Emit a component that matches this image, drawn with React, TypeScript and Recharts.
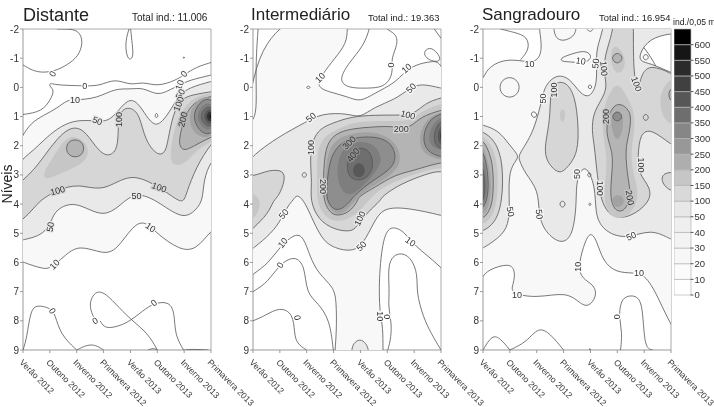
import { BarChart, Bar, ScatterChart, Scatter, XAxis, YAxis, ReferenceLine } from "recharts"

type Pt = number[]

const seasons = ["Verão 2012", "Outono 2012", "Inverno 2012", "Primavera 2012", "Verão 2013", "Outono 2013", "Inverno 2013", "Primavera 2013"]
const seasonTicks = [0, 1, 2, 3, 4, 5, 6, 7]
const levelTicks = [-2, -1, 0, 1, 2, 3, 4, 5, 6, 7, 8, 9]

const legendLabels = ["0", "10", "20", "30", "40", "50", "100", "150", "200", "250", "300", "350", "400", "450", "500", "550", "600"]
const legendFills = ["#ffffff", "#fbfbfb", "#f7f7f7", "#f3f3f3", "#efefef", "#e8e8e8", "#d9d9d9", "#c6c6c6", "#aeaeae", "#989898", "#868686", "#6e6e6e", "#575757", "#404040", "#2b2b2b", "#161616", "#000000"]

const shade: Record<number, string> = {
  10: "#f8f8f8", 50: "#e9e9e9", 100: "#d6d6d6", 150: "#c6c6c6", 200: "#b4b4b4", 250: "#a2a2a2",
  300: "#8e8e8e", 350: "#7e7e7e", 400: "#6e6e6e", 450: "#585858", 500: "#333333", 600: "#141414",
}
const levelsWithLine = [10, 50, 100, 200, 300, 400]

// Distante
const d10: Pt[] = [[-0.4, 2.3], [0, 1.63], [0.28, 1.23], [0.77, 0.95], [1.27, 0.72], [1.64, 0.43], [1.94, 0.43], [2.75, 0.38], [3.43, 0.03], [4, 0.07], [4.48, 0], [5, 0.29], [5.46, 0.09], [5.83, -0.08], [6.2, -0.25], [7, -0.42], [7.4, -0.5], [7.4, 4.7], [7, 4.89], [6.45, 5.58], [5.83, 5.58], [4.97, 5], [4.54, 4.57], [4.1, 4.72], [3.49, 5.58], [3, 5.73], [2.07, 5.37], [1.51, 5.81], [1.02, 6.2], [0.77, 6.23], [0, 6], [-0.4, 5.8]]
const d50: Pt[] = [[-0.4, 2.9], [0, 2.43], [0.4, 2.15], [0.77, 1.81], [1.27, 1.41], [1.88, 1.12], [2.62, 1.14], [3.1, 1.18], [3.43, 0.95], [3.9, 0.38], [4.26, 0.49], [4.6, 1], [4.9, 1.33], [5.2, 1.18], [5.53, 0.72], [5.83, 0.26], [6.2, 0], [7, -0.2], [7.4, -0.3], [7.4, 2.3], [7, 2.49], [6.72, 3.18], [6.7, 3.86], [6.45, 4.2], [5.95, 4.55], [4.97, 3.86], [4.23, 3.6], [3.74, 3.92], [3, 4.53], [1.95, 3.86], [1.2, 4.2], [1.08, 4.55], [0.77, 5.06], [0, 5.23], [-0.4, 5.3]]
const d100: Pt[] = [[-0.4, 3.5], [0, 3.18], [0.4, 2.83], [0.77, 2.38], [1.27, 1.75], [1.76, 1.35], [2.25, 1.41], [2.69, 2.03], [3.1, 2.4], [3.5, 2.2], [3.55, 1.58], [3.55, 1], [3.74, 0.72], [4.04, 0.69], [4.35, 0.95], [4.54, 1.81], [5, 2.35], [5.3, 2.25], [5.4, 1.8], [5.59, 0.89], [5.9, 0.38], [6.33, 0.25], [7, 0.15], [7.4, 0.1], [7.4, 1.6], [7, 1.92], [6.45, 2.72], [6.08, 3.63], [5.97, 4], [5.5, 3.7], [5.07, 3.43], [4, 2.88], [3, 3.6], [2.07, 3.29], [1.27, 3.52], [0.65, 3.86], [0.4, 4.15], [0, 4.53], [-0.4, 4.8]]
const d150a: Pt[] = [[0.73, 2.95], [1.14, 2.38], [1.5, 1.81], [1.94, 1.63], [2.4, 1.92], [2.47, 2.43], [1.88, 2.78], [1.27, 3], [0.83, 3.18]]
const d150b: Pt[] = [[5.59, 2.72], [5.46, 2.38], [5.59, 1.58], [5.83, 0.89], [6.33, 0.32], [7, 0.2], [7.4, 0.2], [7.4, 1.7], [7, 1.86], [6.45, 2.15], [6.08, 2.6]]
const d200a: Pt[] = [[1.94, 1.75], [2.27, 1.9], [2.27, 2.28], [1.94, 2.43], [1.61, 2.28], [1.61, 1.9]]
const d200b: Pt[] = [[5.77, 1.92], [5.96, 2.2], [6.33, 2.03], [7, 1.69], [7.4, 1.6], [7.4, 0.2], [7, 0.32], [6.5, 0.43], [6.13, 0.78], [5.95, 1.23]]
const d250: Pt[] = [[7, 0.2], [6.4, 0.45], [6.15, 1], [6.3, 1.6], [7, 1.85], [7.5, 1]]
const d300: Pt[] = [[7, 0.3], [6.55, 0.5], [6.3, 1], [6.55, 1.5], [7, 1.7], [7.5, 1]]
const d350: Pt[] = [[7, 0.45], [6.62, 0.65], [6.45, 1], [6.62, 1.35], [7, 1.55], [7.4, 1]]
const d400: Pt[] = [[7, 0.6], [6.72, 0.75], [6.6, 1], [6.72, 1.25], [7, 1.4], [7.3, 1]]
const d450: Pt[] = [[7, 0.7], [6.8, 0.8], [6.72, 1], [6.8, 1.2], [7, 1.3], [7.2, 1]]
const d500: Pt[] = [[7, 0.8], [6.88, 0.87], [6.82, 1], [6.88, 1.13], [7, 1.2], [7.15, 1]]
const d600: Pt[] = [[7, 0.9], [6.92, 1], [7, 1.1], [7.1, 1]]
const dLine1: Pt[] = [[1.27, -2], [1.6, -2], [2.08, -1.97], [2.25, -1.55], [2.06, -1.05], [1.64, -0.77], [1.2, -0.55], [0.52, -0.48], [0, -0.77]]
const dLine2: Pt[] = [[0, 0.93], [0.71, 0.83], [1.02, 0.43], [1.18, 0.09], [0.96, -0.05], [1.02, -0.16], [1.18, -0.08], [2.3, -0.05], [2.87, -0.05], [3.43, -0.31], [4, -0.06], [4.48, -0.2], [5, -0.02], [5.7, -0.25], [5.99, -0.42], [6.45, -0.7], [7, -0.85]]
const dLine3: Pt[] = [[0, 9], [0.14, 8.6], [0.28, 7.63], [0.52, 7.45], [1.02, 7.56], [1.2, 7.78], [1.39, 8.47], [2, 9]]
const dLine4: Pt[] = [[2, 9], [2.56, 8.74], [3, 9]]
const dLine5: Pt[] = [[2.7, 8], [2.5, 7.63], [2.5, 7.3], [2.69, 7], [3, 7], [3.43, 7.4], [4, 7.95], [4.66, 8.43], [5, 9]]
const dLine6: Pt[] = [[2.87, 8], [3, 8.2], [3.25, 8.26], [3.87, 8.1], [4.48, 7.64], [4.88, 7.39], [5.46, 7.33], [5.65, 7.76], [5.65, 8.47], [5.98, 9]]
const dLine7: Pt[] = [[4.66, 9], [4.85, 8.93], [5, 9]]
const dLine8: Pt[] = [[6, 9], [6.3, 8.97], [6.9, 9]]
const dLoop1: Pt[] = [[3.98, -2.1], [3.8, -1.57], [3.86, -1.05], [4, -0.92], [4.12, -1.1], [4.05, -1.6], [4, -2.1]]
const dLoop2: Pt[] = [[4.97, 0.82], [5.06, 1.04], [4.88, 1.04]]
const dLoop3: Pt[] = [[5.99, -1.06], [6.02, -1.02], [5.99, -0.98], [5.96, -1.02]]
const dLabels = [
  [1.1, -0.46, "0", -60, "#fff"], [2.3, -0.05, "0", 0, "#fff"], [6, -0.46, "0", -50, "#f8f8f8"], [1.94, 0.43, "10", 0, "#f8f8f8"], [5.83, -0.08, "10", -70, "#f8f8f8"],
  [5.86, 0.23, "50", -60, "#e9e9e9"], [5.8, 0.57, "100", -70, "#d6d6d6"], [2.77, 1.15, "50", 20, "#e9e9e9"], [3.59, 1.1, "100", -90, "#d6d6d6"], [5.96, 1.1, "200", -75, "#b4b4b4"],
  [1.29, 3.54, "100", -15, "#d6d6d6"], [5.07, 3.43, "100", 20, "#d6d6d6"], [4.23, 3.71, "50", 0, "#e9e9e9"], [1.02, 4.78, "50", -80, "#e9e9e9"], [1.18, 6.07, "10", -45, "#f8f8f8"],
  [4.75, 4.8, "10", 35, "#f8f8f8"], [1.09, 7.66, "0", 60, "#fff"], [2.69, 8, "0", -30, "#fff"], [4.88, 7.38, "0", -40, "#fff"],
]

// Intermediario
const i10: Pt[] = [[-0.4, -2.5], [3.5, -2.5], [3.52, -2], [3.48, -1.5], [3.05, -1], [2.56, -0.43], [2.37, -0.02], [2.8, 0.15], [3.54, 0.32], [3.98, 0.51], [4.53, 0.2], [5.27, -0.14], [5.65, -0.54], [6.05, -0.77], [6.6, -0.9], [7.4, -0.9], [7.4, 6.6], [7, 6.15], [6.38, 5.69], [5.89, 5.29], [5.64, 4.95], [5.15, 4.72], [4.84, 5.1], [4.68, 6.6], [4.72, 7.75], [4.84, 8.2], [4.84, 9], [4.84, 9.4], [3.05, 9.4], [3.05, 9], [3.11, 8.4], [3.11, 7.3], [2.99, 6.83], [2.43, 6.38], [2.12, 5.8], [1.88, 5.11], [1.57, 5], [1, 5.46], [0.58, 6.03], [0, 6.4], [-0.4, 6.7]]
const i50: Pt[] = [[-0.4, 2.8], [0, 2.32], [0.95, 1.69], [1.99, 1.18], [2.56, 0.89], [3.54, 0.89], [3.98, 1.06], [4.53, 0.66], [5.27, 0.43], [5.83, 0.03], [6.26, -0.14], [7, 0.03], [7.4, 0.1], [7.4, 4.5], [7, 4.38], [5.89, 4.15], [4.9, 4.09], [4.53, 4.55], [4.1, 5.4], [3.67, 5.63], [3.05, 5.52], [2.56, 5.23], [2.12, 4.32], [1.88, 3.86], [1.63, 3.66], [1.5, 3.86], [1.32, 4.03], [1.07, 4.49], [0.7, 5], [0, 5.52], [-0.4, 5.8]]
const i50b: Pt[] = [[3.67, 9.4], [3.67, 9], [3.73, 8.78], [3.98, 8.6], [4.22, 8.78], [4.31, 9], [4.31, 9.4]]
const i100a: Pt[] = [[-0.4, 3], [0, 3.06], [0.58, 2.83], [1.14, 2.83], [1.2, 3.18], [0.95, 3.75], [0.76, 3.86], [0.58, 4.32], [0, 4.83], [-0.4, 5.2]]
const i100b: Pt[] = [[2.12, 3.86], [2.2, 3.3], [2.12, 2.5], [2.2, 1.81], [2.5, 1.41], [2.94, 1.23], [3.67, 1], [4.53, 0.95], [5.27, 0.95], [5.99, 0.95], [6.38, 0.55], [7, 0.35], [7.4, 0.3], [7.4, 3], [7, 2.85], [6.5, 2.95], [5.5, 3.3], [4.78, 3.75], [4.78, 3.86], [4.28, 4.26], [3.85, 4.78], [3.67, 4.95], [3.05, 4.89], [2.43, 4.55]]
const i150a: Pt[] = [[-0.4, 3.5], [0, 3.6], [0.3, 3.86], [0.2, 4.3], [0, 4.5], [-0.4, 4.7]]
const i150b: Pt[] = [[2.36, 3.86], [2.4, 3.2], [2.36, 2.25], [2.62, 1.65], [3.3, 1.38], [3.67, 1.2], [4.53, 1.15], [5.27, 1.15], [5.85, 1.15], [6.3, 0.8], [7, 0.55], [7.4, 0.5], [7.4, 2.8], [7, 2.7], [5.4, 3.15], [4.5, 3.6], [3.9, 4.4], [3.05, 4.67], [2.6, 4.35]]
const i200: Pt[] = [[2.62, 3.86], [2.62, 3.1], [2.68, 2.03], [3.05, 1.58], [3.67, 1.41], [4.53, 1.35], [5.15, 1.33], [5.5, 1.41], [5.89, 1.35], [6.26, 1], [7, 0.78], [7.4, 0.7], [7.4, 2.6], [7, 2.55], [5.95, 2.86], [5.27, 3], [4.53, 3.43], [3.92, 3.75], [3.92, 3.86], [3.6, 4.3], [3.05, 4.43], [2.8, 4.2]]
const i250: Pt[] = [[2.68, 3.9], [2.68, 3.3], [2.75, 2.2], [3.15, 1.72], [3.8, 1.55], [4.6, 1.5], [5.4, 1.9], [5.55, 2.6], [5.1, 3.05], [4.4, 3.4], [3.8, 3.85], [3.4, 4.35], [3, 4.35]]
const i300: Pt[] = [[2.74, 3.86], [2.74, 3.4], [2.86, 2.37], [3.3, 1.86], [3.9, 1.69], [4.78, 1.69], [5.27, 2.03], [5.33, 2.6], [4.9, 2.95], [4.28, 3.3], [3.67, 3.8], [3.67, 3.86], [3.3, 4.2], [2.98, 4.2]]
const i350: Pt[] = [[3.6, 1.85], [4.5, 1.85], [4.9, 2.5], [4.4, 3.1], [3.7, 3.75], [3.3, 3.6], [3.1, 3], [3.2, 2.3]]
const i400: Pt[] = [[3.94, 2.03], [4.35, 2.15], [4.5, 2.6], [4.35, 3.06], [3.91, 3.23], [3.54, 3.06], [3.48, 2.6], [3.67, 2.26]]
const i450: Pt[] = [[3.94, 2.55], [4.17, 2.7], [4.17, 3], [3.94, 3.12], [3.72, 3], [3.72, 2.7]]
const i250b: Pt[] = [[7.4, 0.75], [7, 0.85], [6.45, 1.05], [6.15, 1.7], [6.3, 2.3], [7, 2.5], [7.4, 2.5]]
const i300b: Pt[] = [[7.4, 0.8], [7, 0.9], [6.55, 1.1], [6.3, 1.7], [6.45, 2.2], [7, 2.4], [7.4, 2.4]]
const i350b: Pt[] = [[7.4, 0.9], [6.75, 1.1], [6.5, 1.7], [6.65, 2.1], [7.4, 2.25]]
const i400b: Pt[] = [[7.4, 1], [6.85, 1.2], [6.7, 1.75], [6.85, 2.1], [7.4, 2.15]]
const i450b: Pt[] = [[7.4, 1.1], [6.95, 1.3], [6.85, 1.7], [6.95, 2], [7.4, 2.05]]
const i500b: Pt[] = [[7.4, 1.2], [7, 1.4], [6.95, 1.7], [7.05, 1.95], [7.4, 1.95]]
const iLine1: Pt[] = [[0.19, -2], [0.09, -0.7], [0.15, 0.78], [0, 1.1]]
const iLine2: Pt[] = [[6.75, -2], [7, -1.68]]
const iLine3: Pt[] = [[0, 7], [0.58, 6.66], [0.95, 6.09], [1.57, 5.74], [1.94, 6.14], [1.98, 7.05], [2.43, 7.4], [2.86, 7.97], [2.99, 9]]
const iLine4: Pt[] = [[0, 8], [0.46, 7.82], [1, 7.52], [1.5, 7.75], [1.54, 8.43], [1.63, 8.78], [1.99, 9]]
const iLine5: Pt[] = [[5.02, 9], [5.15, 8.55], [5.15, 8], [5.03, 7.52], [5.09, 6.95], [5, 5.98], [5.4, 5.63], [5.89, 5.8], [6.14, 6.43], [6.08, 7], [6.33, 7.86], [6.63, 8.43], [7, 9]]
const iLoop1: Pt[] = [[4.35, -2.3], [4.35, -2], [4.1, -1.4], [3.6, -0.88], [3.17, -0.25], [3.54, 0.03], [4.28, 0.03], [4.84, 0], [5.15, -0.31], [5.2, -0.71], [5.15, -1], [5.4, -1.5], [5.33, -1.85], [4.9, -2], [4.9, -2.3]]
const iLoop2: Pt[] = [[6.36, -1.25], [6.63, -1.4], [6.95, -1.1], [6.98, -0.87], [6.63, -0.9], [6.4, -1.05]]
const iLoop3: Pt[] = [[1.91, 2.88], [2.03, 3], [1.91, 3.12], [1.79, 3]]
const iLoop4: Pt[] = [[2.06, -0.06], [2.15, 0], [2.06, 0.06], [1.97, 0]]
const iLabels = [
  [2.5, -0.33, "10", -45, "#f8f8f8"], [5.15, -0.77, "0", -90, "#fff"], [5.72, -0.65, "10", -40, "#fff"], [5.89, 0.03, "50", -45, "#f8f8f8"], [2.16, 1.03, "50", -40, "#f8f8f8"],
  [5.77, 0.95, "100", 15, "#e9e9e9"], [5.52, 1.43, "200", 0, "#d6d6d6"], [2.16, 2.06, "100", -90, "#e9e9e9"], [3.58, 1.9, "300", -45, "#a2a2a2"], [3.73, 2.32, "400", -50, "#8e8e8e"],
  [2.59, 3.4, "200", 90, "#d6d6d6"], [1.14, 4.34, "50", -50, "#f8f8f8"], [1.11, 5.33, "10", -50, "#f8f8f8"], [1.01, 6.09, "0", -60, "#fff"], [3.98, 4.49, "100", -65, "#e9e9e9"],
  [4.04, 5.44, "50", -45, "#f8f8f8"], [5.86, 5.29, "10", 35, "#fff"], [4.72, 7.84, "10", 90, "#f8f8f8"], [5, 7.86, "0", 90, "#fff"], [1.65, 7.89, "0", 80, "#fff"],
]

// Sangradouro
const s10: Pt[] = [[-0.4, 0], [0, -0.25], [0.15, -0.65], [0.7, -0.94], [1.3, -0.94], [2, -0.82], [2.22, -1.29], [2.09, -2], [2.09, -2.4], [7.4, -2.4], [7.4, 8.6], [7, 8.18], [6.57, 7.29], [6.08, 6.43], [5.59, 6.35], [4.97, 6.35], [4.47, 5.98], [4.23, 5.23], [3.98, 4.91], [3.73, 5.46], [3.55, 6.15], [3.67, 6.55], [4.17, 6.78], [4.23, 7.18], [3.92, 7.54], [3.61, 7.4], [3.12, 7], [2, 7.23], [0.99, 7.06], [1.14, 6.72], [1.2, 6.32], [1.02, 6], [0.15, 6.26], [0, 6.51], [-0.4, 6.8]]
const s50a: Pt[] = [[-0.4, 1.2], [0, 1.29], [0.58, 1.47], [0.98, 1.97], [1.3, 2.3], [1.3, 2.45], [0.95, 2.84], [0.98, 3.86], [0.98, 4.55], [0.77, 5.05], [0, 5.52], [-0.4, 5.7]]
const s50b: Pt[] = [[1.33, 2.29], [1.88, 1.57], [2.19, 0.43], [2.31, -0.08], [2.75, -0.46], [3.24, -0.31], [3.61, 0.21], [3.98, 0.38], [4.27, -0.14], [4.2, -1.05], [4.29, -1.5], [4.48, -2], [4.48, -2.4], [7.4, -2.4], [7.4, -1.85], [7, -1.85], [6.2, -1.68], [5.83, -1.17], [5.83, -0.88], [6.26, -0.82], [7, -0.5], [7.4, -0.4], [7.4, 5.3], [7, 5.23], [6.27, 4.83], [5.28, 5.23], [4.45, 4.9], [4.17, 4.32], [4.2, 3.4], [3.8, 2.55], [3.46, 3.18], [3.49, 3.86], [3.36, 5.12], [2.87, 5.4], [2.25, 4.89], [2.07, 4.32], [2.07, 3.52], [1.57, 2.95], [1.33, 2.47]]
const s100a: Pt[] = [[-0.4, 1.4], [0, 1.52], [0.45, 1.8], [0.76, 2.6], [0.72, 3.97], [0.45, 4.65], [0, 4.94], [-0.4, 5]]
const s100b: Pt[] = [[2.68, -0.19], [3.12, -0.19], [3.43, 0.32], [3.55, 1.23], [3.55, 2.26], [3.12, 2.78], [2.81, 3], [2.31, 2.49], [2.31, 1.93], [2.5, 1.12], [2.5, 0.2]]
const s100c: Pt[] = [[4.84, -2.4], [4.84, -1.9], [4.53, -1.1], [4.5, -0.5], [4.63, 0], [4.41, 0.43], [4.1, 0.89], [4.05, 1.5], [4.15, 2], [4.23, 2.83], [4.35, 3.62], [4.5, 4.1], [4.83, 4.47], [5.46, 4.47], [6.2, 3.96], [6.27, 3.45], [5.76, 2.93], [5.77, 2.38], [5.84, 1.57], [6.27, 1.41], [7, 1.98], [7.4, 2.1], [7.4, -0.3], [7, -0.48], [6.26, -0.78], [5.9, -0.5], [5.8, 0.1], [5.6, -0.36], [5.6, -2], [5.6, -2.4]]
const s100d: Pt[] = [[7.4, 2.9], [6.65, 2.9], [6.65, 3.3], [7, 3.57], [7.4, 3.6]]
const s150a: Pt[] = [[-0.4, 1.6], [0, 1.65], [0.32, 1.98], [0.57, 2.65], [0.55, 3.9], [0.33, 4.47], [0, 4.7], [-0.4, 4.8]]
const s150b: Pt[] = [[5, -0.2], [5.3, 0.2], [5.7, 0.9], [5.6, 1.7], [5.5, 2.3], [5.6, 3], [5.85, 3.7], [5.5, 4.4], [4.95, 4.55], [4.55, 4.2], [4.5, 3.5], [4.65, 2.5], [4.45, 1.6], [4.45, 0.8], [4.7, 0.2]]
const s150c: Pt[] = [[4.78, -1.39], [5, -1.42], [5.3, -1.1], [5.28, -0.6], [5, -0.42], [4.75, -0.77]]
const s150d: Pt[] = [[7.4, -0.3], [6.9, -0.3], [6.55, 0.3], [6.65, 1], [7, 1.3], [7.4, 1.3]]
const s150e: Pt[] = [[2.96, 0.65], [3.1, 0.95], [2.96, 1.3], [2.82, 0.95]]
const s200a: Pt[] = [[-0.4, 1.7], [0, 1.8], [0.2, 2.14], [0.39, 2.71], [0.39, 3.86], [0.2, 4.31], [0, 4.49], [-0.4, 4.55]]
const s200b: Pt[] = [[5, 0.49], [5.4, 0.72], [5.52, 1], [5.45, 1.58], [5.28, 2.14], [5.4, 3.17], [5.53, 3.74], [5.28, 4.26], [4.91, 4.26], [4.7, 3.74], [4.85, 2.6], [4.78, 2.1], [4.57, 1.58], [4.66, 0.89]]
const s200c: Pt[] = [[5, -1.2], [5.18, -1.08], [5.18, -0.92], [5, -0.8], [4.82, -0.92], [4.82, -1.08]]
const s200d: Pt[] = [[7.4, 0], [6.95, 0], [6.9, 0.3], [7, 0.5], [7.4, 0.5]]
const s250a: Pt[] = [[-0.4, 1.9], [0, 1.95], [0.13, 2.4], [0.3, 2.9], [0.3, 3.8], [0.13, 4.25], [0, 4.35], [-0.4, 4.4]]
const s250b: Pt[] = [[5, 0.7], [5.25, 1], [5.2, 1.5], [5, 1.9], [4.8, 1.5], [4.75, 1]]
const s250c: Pt[] = [[5.02, 3.65], [5.25, 3.8], [5.25, 4], [5.02, 4.15], [4.8, 4], [4.8, 3.8]]
const s300a: Pt[] = [[-0.4, 2], [0, 2.08], [0.2, 2.94], [0.2, 3.74], [0, 4.2], [-0.4, 4.3]]
const s300b: Pt[] = [[5, 0.82], [5.17, 0.92], [5.17, 1.08], [5, 1.18], [4.83, 1.08], [4.83, 0.92]]
const s350: Pt[] = [[-0.4, 2.3], [0, 2.35], [0.15, 3], [0.15, 3.7], [0, 4.1], [-0.4, 4.2]]
const s400: Pt[] = [[-0.4, 2.5], [0, 2.6], [0.1, 3.4], [0, 4.03], [-0.4, 4.1]]
const sLine1: Pt[] = [[0.65, -2], [1.14, -1.89], [1.66, -1.75], [1.73, -1.3], [1.4, -0.95]]
const sLine2: Pt[] = [[2.64, -2], [2.7, -1.68], [3, -1.57], [3.4, -1.75], [3.46, -2]]
const sLine3: Pt[] = [[3.86, -2], [4, -1.88], [4.1, -2]]
const sLine4: Pt[] = [[0, 9], [0.34, 8.47], [0.65, 8.6], [1, 9]]
const sLine5: Pt[] = [[1, 9], [1.64, 8.72], [2.06, 8.2], [2.5, 8.43], [3, 9]]
const sLine6: Pt[] = [[5.12, 9], [5.19, 8.43], [5.06, 7.86], [5.12, 7.4], [5.28, 7.14], [5.83, 7.12], [5.96, 7.75], [6.02, 8.95], [6.33, 9]]
const sLine7: Pt[] = [[3.96, 9], [3.98, 8.93], [4, 9]]
const sLoop1: Pt[] = [[0.99, -0.4], [1.36, -0.2], [1.36, 0.2], [0.99, 0.4], [0.62, 0.2], [0.62, -0.2]]
const sLoop2: Pt[] = [[1.75, 0.9], [1.9, 0.8], [2.05, 0.95], [1.9, 1.08]]
const sLoop3: Pt[] = [[3.98, -0.15], [4.1, 0.05], [3.87, 0.05]]
const sLoop4: Pt[] = [[6.06, -1.17], [6.2, -1.03], [6.06, -0.9], [5.92, -1.03]]
const sLoop5: Pt[] = [[6.06, 0.88], [6.2, 1.03], [6.06, 1.18], [5.92, 1.03]]
const sLoop6: Pt[] = [[2.96, 3.85], [3.1, 4], [2.96, 4.15], [2.82, 4]]
const sLoop7: Pt[] = [[3.96, 2.9], [4.05, 3], [3.96, 3.1], [3.87, 3]]
const sLoop8: Pt[] = [[3.98, 3.92], [4.05, 4.05], [3.91, 4.05]]
const sLoop9: Pt[] = [[2.87, -1], [3.24, -1.13], [3.8, -1.28], [4.04, -1.1], [3.98, -0.94], [3.73, -0.82], [3.24, -0.88], [2.93, -0.88]]
const sLabels = [
  [1.73, -0.8, "10", 0, "#fff"], [3.64, -0.9, "10", 10, "#fff"], [4.2, -0.82, "50", -85, "#f8f8f8"], [4.5, -0.65, "100", 85, "#e9e9e9"], [5.71, -0.11, "100", 70, "#e9e9e9"],
  [2.65, 0.09, "100", -90, "#e9e9e9"], [2.25, 0.38, "50", -90, "#f8f8f8"], [4.57, 1, "200", -90, "#c6c6c6"], [5.87, 2.66, "100", 90, "#e9e9e9"], [3.49, 2.97, "50", -90, "#f8f8f8"],
  [4.35, 3.46, "100", 90, "#e9e9e9"], [5.46, 3.78, "200", 80, "#c6c6c6"], [1.02, 4.26, "50", 80, "#f8f8f8"], [2.09, 4.35, "50", 85, "#f8f8f8"],
  [5.52, 5.1, "50", -25, "#f8f8f8"], [1.27, 7.12, "10", 0, "#fff"], [3.55, 6.15, "10", -90, "#f8f8f8"], [5.81, 6.35, "10", 0, "#fff"], [5, 7.86, "0", -90, "#fff"],
]

const distanteBands: [number, Pt[]][] = [[10, d10], [50, d50], [100, d100], [150, d150a], [150, d150b], [200, d200a], [200, d200b], [250, d250], [300, d300], [350, d350], [400, d400], [450, d450], [500, d500], [600, d600]]
const intermediarioBands: [number, Pt[]][] = [[10, i10], [50, i50], [50, i50b], [100, i100a], [100, i100b], [150, i150a], [150, i150b], [200, i200], [250, i250], [250, i250b], [300, i300], [300, i300b], [350, i350], [350, i350b], [400, i400], [400, i400b], [450, i450], [450, i450b], [500, i500b]]
const sangradouroBands: [number, Pt[]][] = [[10, s10], [50, s50a], [50, s50b], [100, s100a], [100, s100b], [100, s100c], [100, s100d], [150, s150a], [150, s150b], [150, s150c], [150, s150d], [150, s150e], [200, s200a], [200, s200b], [200, s200c], [200, s200d], [250, s250a], [250, s250b], [250, s250c], [300, s300a], [300, s300b], [350, s350], [400, s400]]

const toRows = (pts: Pt[]) => pts.map(([x, y]) => ({ x, y }))
const noDot = () => <g />

const SeasonTick = ({ x, y, payload }: any) => (
  <text x={x - 4} y={y + 8} transform={`rotate(45 ${x - 4} ${y + 8})`} fontSize={8.7} fill="#333" fontFamily="Liberation Sans">
    {seasons[payload.value]}
  </text>
)

const ContourLabel = ({ cx, cy, payload }: any) => (
  <text
    x={cx}
    y={cy}
    transform={`rotate(${payload.angle} ${cx} ${cy})`}
    textAnchor="middle"
    dominantBaseline="central"
    fontSize={9}
    fill="#333"
    stroke={payload.halo}
    strokeWidth={2.5}
    paintOrder="stroke"
    fontFamily="Liberation Sans"
  >
    {payload.text}
  </text>
)

function ContourPanel({ plotLeft, bands, lines, loops, labels }: any) {
  const labelRows = labels.map(([x, y, text, angle, halo]: any[]) => ({ x, y, text, angle, halo }))
  return (
    <div style={{ position: "absolute", left: plotLeft - 20, top: 0 }}>
      <ScatterChart width={260} height={407} margin={{ top: 29, right: 52, bottom: 0, left: 0 }}>
        <XAxis
          type="number"
          dataKey="x"
          domain={[0, 7]}
          ticks={seasonTicks}
          allowDataOverflow
          height={57}
          interval={0}
          tick={SeasonTick}
          tickSize={3}
          stroke="#999"
        />
        <YAxis
          type="number"
          dataKey="y"
          domain={[-2, 9]}
          ticks={levelTicks}
          reversed
          allowDataOverflow
          width={20}
          interval={0}
          tickSize={3}
          tickMargin={1}
          stroke="#999"
          tick={{ fontSize: 10, fill: "#333", fontFamily: "Liberation Sans" }}
        />
        {bands.map(([level, pts]: [number, Pt[]], i: number) => (
          <Scatter
            key={`b${i}`}
            data={toRows(pts)}
            line={{ fill: shade[level], stroke: levelsWithLine.includes(level) ? "#555" : "none", strokeWidth: 0.8 }}
            lineJointType="basisClosed"
            shape={noDot}
            isAnimationActive={false}
          />
        ))}
        {lines.map((pts: Pt[], i: number) => (
          <Scatter
            key={`l${i}`}
            data={toRows(pts)}
            line={{ stroke: "#555", strokeWidth: 0.8 }}
            lineJointType="basis"
            shape={noDot}
            isAnimationActive={false}
          />
        ))}
        {loops.map((pts: Pt[], i: number) => (
          <Scatter
            key={`o${i}`}
            data={toRows(pts)}
            line={{ stroke: "#555", strokeWidth: 0.8 }}
            lineJointType="basisClosed"
            shape={noDot}
            isAnimationActive={false}
          />
        ))}
        <ReferenceLine x={7} stroke="#aaa" />
        <ReferenceLine y={-2} stroke="#aaa" />
        <Scatter data={labelRows} shape={ContourLabel} isAnimationActive={false} />
      </ScatterChart>
    </div>
  )
}

const legendRow: Record<string, any> = { name: "escala" }
legendFills.forEach((_, i) => {
  legendRow[`c${i}`] = 1
})

function Legend() {
  return (
    <div style={{ position: "absolute", left: 673.5, top: 0 }}>
      <BarChart width={40} height={300} data={[legendRow]} barCategoryGap={0} margin={{ top: 29, right: 0, bottom: 5, left: 0 }}>
        <XAxis dataKey="name" hide />
        <YAxis
          type="number"
          orientation="right"
          domain={[0, 17]}
          ticks={legendLabels.map((_, i) => i)}
          interval={0}
          width={23.5}
          tickSize={3}
          tickMargin={1}
          stroke="#555"
          axisLine={false}
          tickFormatter={(v: number) => legendLabels[v]}
          tick={{ fontSize: 9.5, fill: "#333", fontFamily: "Liberation Sans", textAnchor: "start" }}
        />
        {legendFills.map((f, i) => (
          <Bar key={f} dataKey={`c${i}`} stackId="s" fill={f} stroke="#b5b5b5" strokeWidth={0.7} isAnimationActive={false} />
        ))}
      </BarChart>
    </div>
  )
}

const sans = "Liberation Sans"
const Caption = ({ left, top, size, children }: any) => (
  <div style={{ position: "absolute", left, top, fontSize: size, lineHeight: 1, color: "#222", fontFamily: sans, whiteSpace: "nowrap" }}>{children}</div>
)

export default function App() {
  return (
    <div style={{ position: "absolute", left: 0, top: 0, width: 714, height: 407, overflow: "hidden", background: "#fff", filter: "blur(0.35px)" }}>
      <ContourPanel
        plotLeft={22.5}
        bands={distanteBands}
        lines={[dLine1, dLine2, dLine3, dLine4, dLine5, dLine6, dLine7, dLine8]}
        loops={[dLoop1, dLoop2, dLoop3]}
        labels={dLabels}
      />
      <ContourPanel
        plotLeft={253}
        bands={intermediarioBands}
        lines={[iLine1, iLine2, iLine3, iLine4, iLine5]}
        loops={[iLoop1, iLoop2, iLoop3, iLoop4]}
        labels={iLabels}
      />
      <ContourPanel
        plotLeft={482.5}
        bands={sangradouroBands}
        lines={[sLine1, sLine2, sLine3, sLine4, sLine5, sLine6, sLine7]}
        loops={[sLoop1, sLoop2, sLoop3, sLoop4, sLoop5, sLoop6, sLoop7, sLoop8, sLoop9]}
        labels={sLabels}
      />
      <Legend />
      <Caption left={23} top={6} size={18}>Distante</Caption>
      <Caption left={251} top={6} size={17}>Intermediário</Caption>
      <Caption left={482} top={6} size={17}>Sangradouro</Caption>
      <Caption left={132} top={12.5} size={10}>Total ind.: 11.006</Caption>
      <Caption left={368} top={12.5} size={9.4}>Total ind.: 19.363</Caption>
      <Caption left={599} top={12.5} size={9.4}>Total ind.: 16.954</Caption>
      <Caption left={673} top={18} size={8.6}>ind./0,05 m</Caption>
      <div style={{ position: "absolute", left: 7, top: 184, fontSize: 14, lineHeight: 1, color: "#222", fontFamily: sans, transform: "translate(-50%, -50%) rotate(-90deg)" }}>Níveis</div>
    </div>
  )
}
